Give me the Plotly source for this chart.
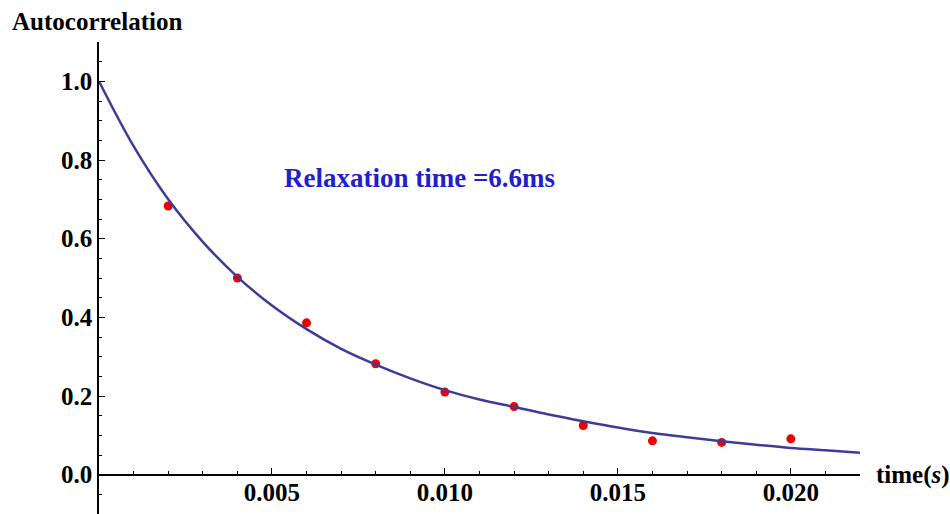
import plotly.graph_objects as go

# Measured data (time in seconds, autocorrelation)
time_points = [0.002, 0.004, 0.006, 0.008, 0.010, 0.012, 0.014, 0.016, 0.018, 0.020]
autocorr = [0.683, 0.500, 0.386, 0.282, 0.210, 0.173, 0.125, 0.086, 0.082, 0.091]

# Fitted curve
fit_t = [0.000, 0.001, 0.002, 0.003, 0.004, 0.005, 0.006, 0.007, 0.008, 0.009, 0.010,
         0.011, 0.012, 0.013, 0.014, 0.015, 0.016, 0.017, 0.018, 0.019, 0.020, 0.021, 0.022]
fit_y = [1.000, 0.835, 0.700, 0.592, 0.503, 0.430, 0.370, 0.320, 0.280, 0.245, 0.215,
         0.191, 0.172, 0.153, 0.136, 0.120, 0.106, 0.095, 0.085, 0.076, 0.068, 0.062, 0.056]

x_tickvals = [0.005, 0.010, 0.015, 0.020]
x_ticktext = ["0.005", "0.010", "0.015", "0.020"]
y_tickvals = [0.0, 0.2, 0.4, 0.6, 0.8, 1.0]
y_ticktext = ["0.0", "0.2", "0.4", "0.6", "0.8", "1.0"]

FONT = "Liberation Serif"

fig = go.Figure()
fig.add_trace(go.Scatter(
    x=time_points, y=autocorr, mode="markers",
    marker=dict(color="#ee0000", size=9, line=dict(width=0)),
    showlegend=False, hoverinfo="skip"))
fig.add_trace(go.Scatter(
    x=fit_t, y=fit_y, mode="lines",
    line=dict(color="#3d3d99", width=2.5, shape="spline", smoothing=1.0),
    showlegend=False, hoverinfo="skip"))

fig.update_layout(
    width=950, height=514,
    margin=dict(l=99, r=90, t=42, b=0),
    paper_bgcolor="white", plot_bgcolor="white",
    font=dict(family=FONT, size=25, color="black"),
    xaxis=dict(
        range=[0, 0.022], domain=[0, 1],
        anchor="free", position=0.1 / 1.2,
        showgrid=False, zeroline=False,
        showline=True, linecolor="black", linewidth=1.5,
        ticks="inside", ticklen=6, tickwidth=1.2, tickcolor="black",
        tickvals=x_tickvals, ticktext=x_ticktext,
        ticklabelstandoff=-4,
        tickfont=dict(family=FONT, size=25, color="black", weight="bold"),
        minor=dict(dtick=0.001, tick0=0, ticks="inside", ticklen=3,
                   tickwidth=1, tickcolor="black", showgrid=False),
    ),
    yaxis=dict(
        range=[-0.1, 1.1], domain=[0, 1],
        showgrid=False, zeroline=False,
        showline=True, linecolor="black", linewidth=1.5,
        ticks="inside", ticklen=6, tickwidth=1.2, tickcolor="black",
        tickvals=y_tickvals, ticktext=y_ticktext,
        tickfont=dict(family=FONT, size=25, color="black", weight="bold"),
        minor=dict(dtick=0.05, tick0=0, ticks="inside", ticklen=3,
                   tickwidth=1, tickcolor="black", showgrid=False),
    ),
    annotations=[
        dict(text="<b>Autocorrelation</b>", xref="paper", yref="paper",
             x=-99 / 761 + 10 / 761, y=1 + 21 / 472, xanchor="left", yanchor="middle",
             showarrow=False, font=dict(family=FONT, size=25, color="black")),
        dict(text="<b>time(<i>s</i>)</b>", xref="paper", yref="y",
             x=1 + 14 / 761, y=0, xanchor="left", yanchor="middle",
             showarrow=False, font=dict(family=FONT, size=25, color="black")),
        dict(text="<b>Relaxation time =6.6ms</b>", xref="x", yref="y",
             x=0.00926, y=0.754, xanchor="center", yanchor="middle",
             showarrow=False, font=dict(family=FONT, size=27, color="#1f1fcc")),
    ],
)

fig.write_html("out.html")
